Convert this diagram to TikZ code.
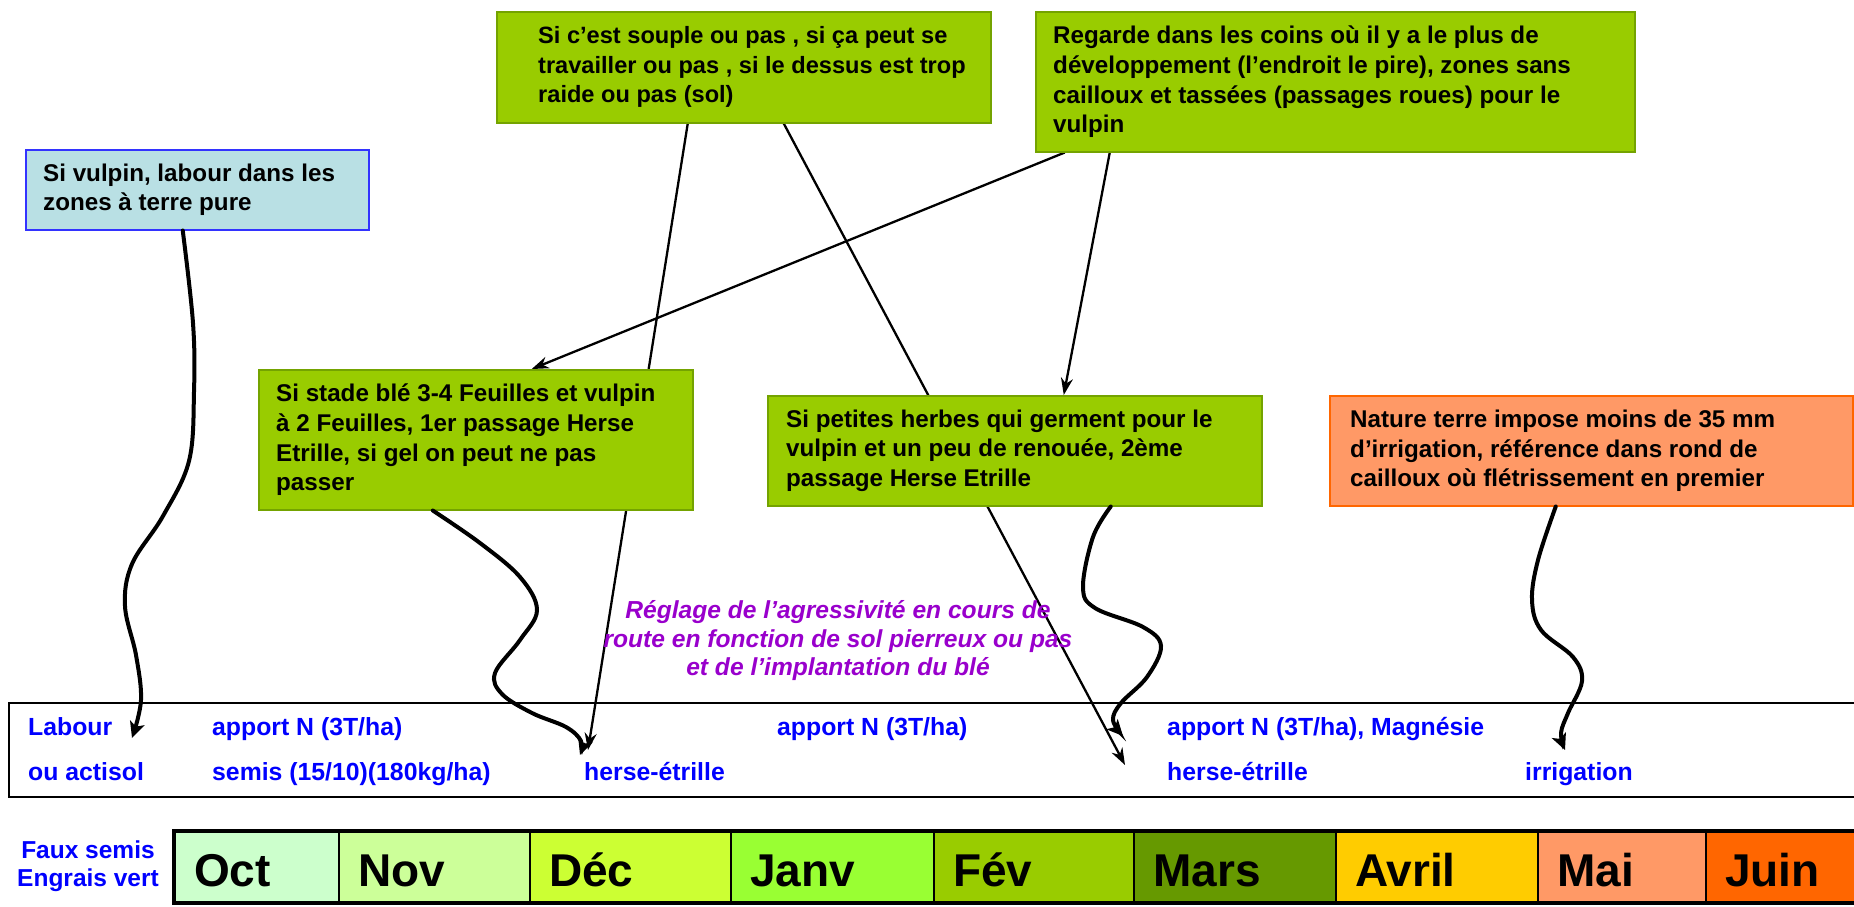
\documentclass[tikz,border=0pt]{standalone}
\usepackage{fontspec}
\setmainfont{Liberation Sans}
\usetikzlibrary{arrows.meta,calc,backgrounds}

\definecolor{gfill}{HTML}{99CC00}
\definecolor{gline}{HTML}{74A300}
\definecolor{cfill}{HTML}{B9E0E4}
\definecolor{cline}{HTML}{3333FF}
\definecolor{ofill}{HTML}{FF9966}
\definecolor{oline}{HTML}{FF6600}
\definecolor{purp}{HTML}{9900CC}
\definecolor{bleu}{HTML}{0000FF}
\definecolor{cOct}{HTML}{CCFFCC}
\definecolor{cNov}{HTML}{CCFF99}
\definecolor{cDec}{HTML}{CCFF33}
\definecolor{cJan}{HTML}{99FF33}
\definecolor{cFev}{HTML}{99CC00}
\definecolor{cMar}{HTML}{669900}
\definecolor{cAvr}{HTML}{FFCC00}
\definecolor{cMai}{HTML}{FF9966}
\definecolor{cJui}{HTML}{FF6600}

\begin{document}
\begin{tikzpicture}[x=1pt,y=-1pt,
  box/.style={draw, line width=1.5pt, anchor=north west, inner sep=0pt},
  gbox/.style={box, fill=gfill, draw=gline},
  cbox/.style={box, fill=cfill, draw=cline},
  obox/.style={box, fill=ofill, draw=oline},
  boxtxt/.style={font=\fontsize{24.2}{29.8}\selectfont\bfseries, anchor=west, align=left, inner sep=0pt},
  btxt/.style={font=\fontsize{24.8}{29}\selectfont\bfseries, text=bleu, anchor=base west, inner sep=0pt},
  cell/.style={draw, line width=1.5pt, anchor=north west, minimum height=72pt, inner sep=0pt},
  mtxt/.style={font=\fontsize{46}{50}\selectfont\bfseries, anchor=base west, inner sep=0pt},
  thinarrow/.style={line width=2.3pt, -{Stealth[length=17pt,width=12pt]}},
  wavy/.style={line width=4pt, line cap=round, -{Stealth[length=16pt,width=15pt,inset=4pt]}}
]
\useasboundingbox (0,0) rectangle (1854,906);

% ---- boxes ----
\node[gbox, minimum width=494pt, minimum height=111pt] (A) at (496,11) {};
\node[boxtxt, font=\fontsize{23.6}{29.5}\selectfont\bfseries] (At) at ([xshift=42pt]A.west)
  {Si c’est souple ou pas , si ça peut se\\travailler ou pas , si le dessus est trop\\raide ou pas (sol)};
\node[gbox, minimum width=599pt, minimum height=140pt] (B) at (1035,11) {};
\node[boxtxt] (Bt) at ([xshift=18pt]B.west)
  {Regarde dans les coins où il y a le plus de\\développement (l’endroit le pire), zones sans\\cailloux et tassées (passages roues) pour le\\vulpin};
\node[cbox, minimum width=343pt, minimum height=80pt] (C) at (25,149) {};
\node[boxtxt] (Ct) at ([xshift=18pt]C.west)
  {Si vulpin, labour dans les\\zones à terre pure};
\node[gbox, minimum width=434pt, minimum height=140pt] (D) at (258,369) {};
\node[boxtxt] (Dt) at ([xshift=18pt]D.west)
  {Si stade blé 3-4 Feuilles et vulpin\\à 2 Feuilles, 1er passage Herse\\Etrille, si gel on peut ne pas\\passer};
\node[gbox, minimum width=494pt, minimum height=110pt] (E) at (767,395) {};
\node[boxtxt] (Et) at ([xshift=19pt]E.west)
  {Si petites herbes qui germent pour le\\vulpin et un peu de renouée, 2ème\\passage Herse Etrille};
\node[obox, minimum width=523pt, minimum height=110pt] (O) at (1329,395) {};
\node[boxtxt] (Ot) at ([xshift=21pt]O.west)
  {Nature terre impose moins de 35 mm\\d’irrigation, référence dans rond de\\cailloux où flétrissement en premier};

% ---- bottom box ----
\node[draw, line width=2pt, anchor=north west, minimum width=1870pt, minimum height=94pt, inner sep=0pt] (bot) at (8,702) {};
\node[btxt] (l1) at (28,735) {Labour};
\node[btxt] (l2) at (28,780) {ou actisol};
\node[btxt] (a1) at (212,735) {apport N (3T/ha)};
\node[btxt] (s1) at (212,780) {semis (15/10)(180kg/ha)};
\node[btxt] (h1) at (584,780) {herse-étrille};
\node[btxt] (a2) at (777,735) {apport N (3T/ha)};
\node[btxt] (a3) at (1167,735) {apport N (3T/ha), Magnésie};
\node[btxt] (h2) at (1167,780) {herse-étrille};
\node[btxt] (ir) at (1525,780) {irrigation};

% ---- arrow targets ----
\coordinate (tLab) at (132,738);
\coordinate (tH1a) at (580,755);
\coordinate (tH1b) at (588,750);
\coordinate (tH2) at (1125,765);
\coordinate (tN3) at (1123,736);
\coordinate (tIrr) at (1565,750);

% ---- straight arrows behind boxes ----
\begin{scope}[on background layer]
  \draw[thinarrow] ([xshift=-56pt]A.south) -- (tH1b);
  \draw[thinarrow] ([xshift=40pt]A.south) -- (tH2);
  \draw[thinarrow] ([xshift=-270.5pt]B.south) -- ([xshift=56pt]D.north);
  \draw[thinarrow] ([xshift=-225.5pt]B.south) -- ([xshift=49pt]E.north);
\end{scope}

% ---- wavy arrows ----
\coordinate (sLab) at ([xshift=-14.5pt]C.south);
\coordinate (sD) at ([xshift=-43pt]D.south);
\coordinate (sE) at ([xshift=96pt]E.south);
\coordinate (sO) at ([xshift=-35.5pt]O.south);
\draw[wavy] plot[smooth, tension=0.6] coordinates {(sLab) (193,323) (194,392) (189,461) (163,516) (132,564) (125,606) (136,655) (141,700) (tLab)};
\draw[wavy] plot[smooth, tension=0.6] coordinates {(sD) (480,543) (520,577) (537,610) (520,640) (495,673) (502,694) (532,713) (566,727) (581,741) (tH1a)};
\draw[wavy] plot[smooth, tension=0.6] coordinates {(sE) (1093,537) (1083,587) (1095,608) (1143,627) (1161,646) (1147,677) (1121,703) (1113,720) (tN3)};
\draw[wavy] plot[smooth, tension=0.6] coordinates {(sO) (1538,560) (1532,600) (1541,630) (1573,657) (1582,681) (1568,713) (1561,733) (tIrr)};

% ---- purple text ----
\node[font=\fontsize{24.6}{28.5}\selectfont\bfseries\itshape, text=purp, align=center, inner sep=0pt] (reg) at (838,641)
  {Réglage de l’agressivité en cours de\\route en fonction de sol pierreux ou pas\\et de l’implantation du blé};

% ---- months ----
\node[font=\fontsize{24.5}{28}\selectfont\bfseries, text=bleu, align=center, inner sep=0pt] (fs) at (88,866) {Faux semis\\Engrais vert};
\foreach \x/\w/\c/\t [count=\i] in {174/164/cOct/Oct, 338/191/cNov/Nov, 529/201/cDec/Déc, 730/203/cJan/Janv, 933/200/cFev/Fév, 1133/202/cMar/Mars, 1335/202/cAvr/Avril, 1537/168/cMai/Mai, 1705/170/cJui/Juin}{
  \node[cell, fill=\c, minimum width=\w pt] (m\i) at (\x,831) {};
  \node[mtxt] (mt\i) at (\x+20,886) {\t};
}
\draw[line width=4pt] (174,831) rectangle (1880,903);
\end{tikzpicture}
\end{document}
